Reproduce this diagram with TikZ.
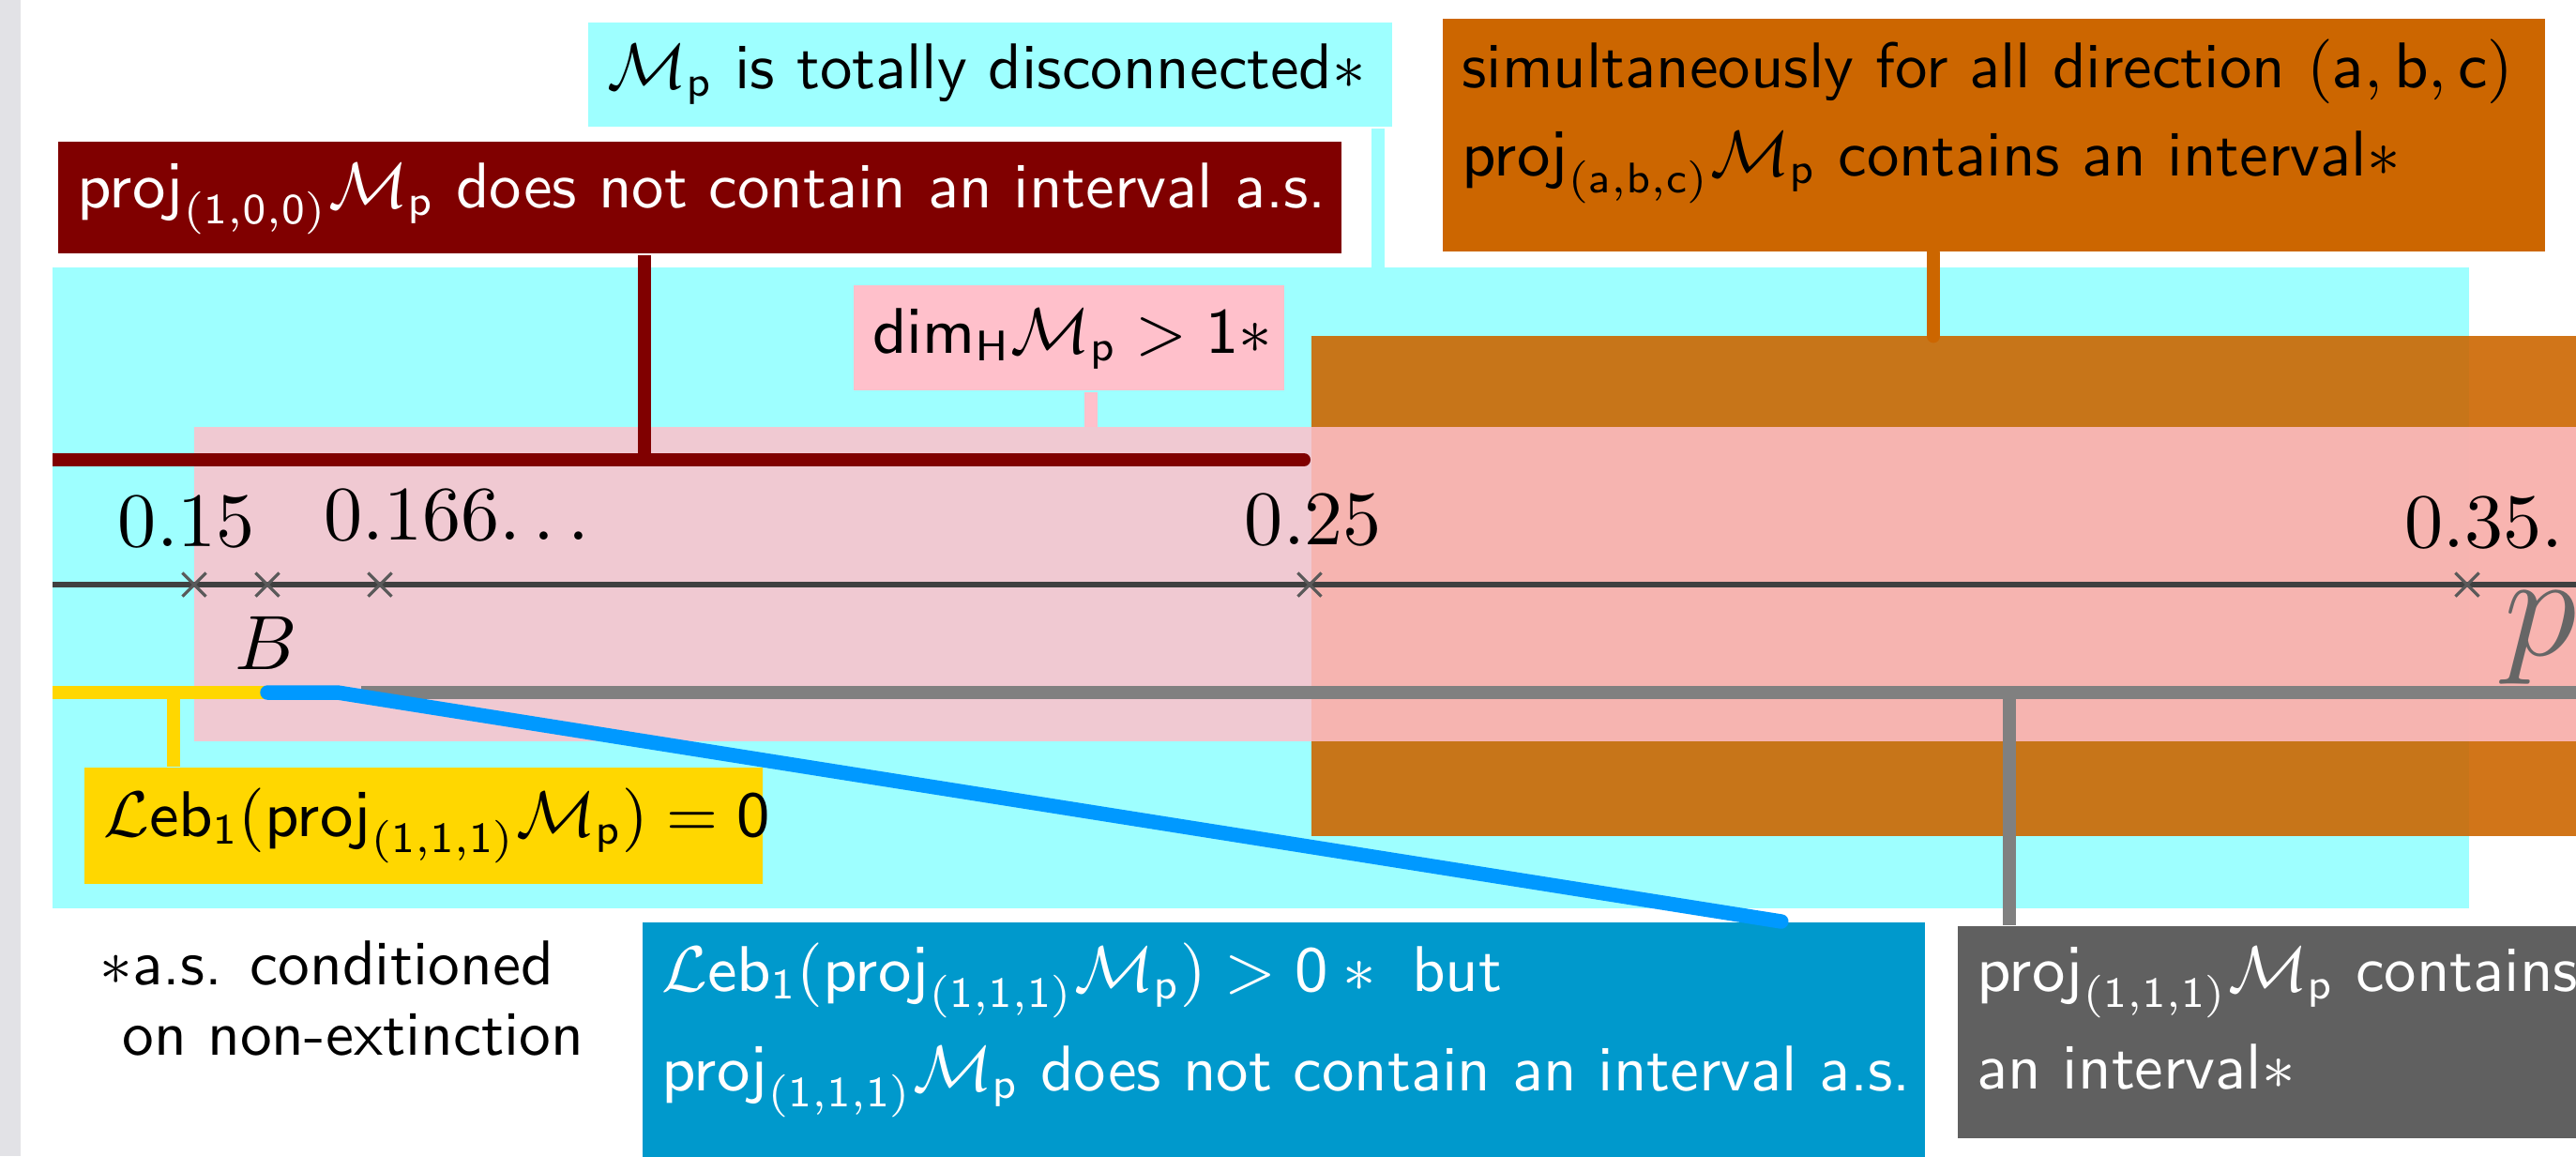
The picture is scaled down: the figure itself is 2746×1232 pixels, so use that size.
\RequirePackage{fix-cm}
\documentclass[tikz,border=0pt]{standalone}
\usepackage{xcolor}
\usepackage{tikz}
\usetikzlibrary{positioning, shapes.misc}
\definecolor{skycyan}{HTML}{9EFFFF}
\definecolor{maroonred}{HTML}{800000}
\definecolor{rustorange}{HTML}{CC6600}
\definecolor{softpink}{HTML}{FFC0CB}
\definecolor{goldyellow}{HTML}{FFD700}
\definecolor{seablue}{HTML}{0099CC}
\definecolor{brightblue}{HTML}{0099FF}
\definecolor{midgray}{HTML}{808080}
\definecolor{slabgray}{HTML}{606060}
\definecolor{edgegray}{HTML}{E2E2E6}
\DeclareMathSizes{9.8}{9.8}{6.5}{5}

\newcommand{\Mp}{\mathcal{M}_{\mathsf{p}}}
\newcommand{\projd}[1]{\mathsf{proj}_{\mathsf{(#1)}}}
\newcommand{\Lebone}{\mathcal{L}\mathsf{eb}_{\mathsf{1}}}

\tikzset{
  tagbox/.style={anchor=north west, inner xsep=0.1cm, inner ysep=0pt, align=left,
    font=\fontsize{9.8}{11.8}\selectfont\sffamily},
  link/.style={line width=2.1pt},
  interval/.style={line width=2pt, line cap=round},
  tickmark/.style={cross out, draw=black!65, line width=0.45pt, inner sep=0pt, minimum size=0.11cm},
  ticklabel/.style={font=\fontsize{11.7}{14}\selectfont, inner sep=0pt},
}

\begin{document}
\begin{tikzpicture}[x=0.005cm, y=-0.005cm]
  \useasboundingbox (0,0) rectangle (2746,1232);
  \fill[edgegray] (0,0) rectangle (22,1232);
  \clip (56,0) rectangle (2746,1232);

  % regions along p
  \fill[skycyan] (56,285) rectangle (2632,968);
  \fill[rustorange, opacity=.9] (1398,358) rectangle (2800,891);
  \fill[softpink, opacity=.85] (207,455) rectangle (2800,790);

  % labels
  \node[tagbox, fill=skycyan, text width=4.085cm, text height=0.35cm, text depth=0.205cm]
    (tdisc) at (626,23) {\mbox{$\Mp$ is totally disconnected$\ast$}};
  \node[tagbox, fill=maroonred, text=white, text width=6.645cm, text height=0.35cm, text depth=0.245cm]
    (projx) at (61,150) {\mbox{$\projd{1,0,0}\Mp$ does not contain an interval a.s.}};
  \node[tagbox, fill=rustorange, text width=5.68cm, text height=0.365cm, text depth=0.875cm]
    (alldir) at (1537,19) {\mbox{simultaneously for all direction $(\mathsf{a},\mathsf{b},\mathsf{c})$}\\[1.65pt]
      \mbox{$\projd{a,b,c}\Mp$ contains an interval$\ast$}};
  \node[tagbox, fill=softpink, text width=2.095cm, text height=0.36cm, text depth=0.2cm]
    (dimh) at (909,303) {\mbox{$\mathsf{dim}_{\mathsf{H}}\Mp > \mathsf{1}\ast$}};
  \node[tagbox, fill=goldyellow, text width=3.415cm, text height=0.365cm, text depth=0.255cm]
    (lebzero) at (89,817) {\mbox{$\Lebone(\projd{1,1,1}\Mp) = \mathsf{0}$}};
  \node[tagbox, fill=seablue, text=white, text width=6.64cm, text height=0.365cm, text depth=1.225cm]
    (lebpos) at (684,982) {\mbox{$\Lebone(\projd{1,1,1}\Mp) > \mathsf{0}\ast{}$ but}\\[3.3pt]
      \mbox{$\projd{1,1,1}\Mp$ does not contain an interval a.s.}};
  \node[tagbox, fill=slabgray, text=white, text width=3.87cm, text height=0.345cm, text depth=0.785cm]
    (contint) at (2086,986) {\mbox{$\projd{1,1,1}\Mp$ contains}\\[3pt]
      \mbox{an interval$\ast$}};
  \node[anchor=north west, align=left, inner sep=0pt, font=\fontsize{9.6}{10.65}\selectfont\sffamily]
    (note) at (105,1001) {$\ast$a.s. conditioned\\\hspace*{0.12cm}on non-extinction};

  % the p axis
  \draw[line width=0.85pt, black!75] (56,623) -- (2800,623);
  \foreach \x/\name in {207/t15, 285/tB, 405/t166, 1396/t25, 2630/t35}
    \node[tickmark] (\name) at (\x,623) {};
  \node[ticklabel, anchor=base] (l15) at (199,582) {$0.15$};
  \node[ticklabel, anchor=base west] (l166) at (344,575) {$0.166\ldotp\ldotp\ldotp$};
  \node[ticklabel, anchor=base] (l25) at (1400,580) {$0.25$};
  \node[ticklabel, anchor=base west] (l35) at (2562,583) {$0.35.$};
  \node[ticklabel, anchor=base] (lB) at (284,713) {$B$};
  \node[inner sep=0pt, anchor=base west, text=black!60, font=\fontsize{22.5}{26}\selectfont]
    (pvar) at (2668,698) {$p$};

  % where connectors meet
  \coordinate (cyantap) at (1469,285);
  \coordinate (redtap) at (687,490);
  \coordinate (pinktap) at (1163,455);
  \coordinate (orangetap) at (2061,358);
  \coordinate (yellowtap) at (185,738);
  \coordinate (graytap) at (2142,738);
  \coordinate (bluebend) at (360,738);

  \draw[link, skycyan] (tdisc.south -| cyantap) -- (cyantap);
  \draw[link, maroonred] (projx.south -| redtap) -- (redtap);
  \draw[link, softpink] (dimh.south -| pinktap) -- (pinktap);
  \draw[link, rustorange, line cap=round] (alldir.south -| orangetap) -- (orangetap);
  \draw[link, goldyellow] (yellowtap) -- (yellowtap |- lebzero.north);
  \draw[link, midgray] (graytap) -- (graytap |- contint.north);

  % intervals
  \draw[interval, maroonred] (40,490) -- (1390,490);
  \draw[interval, goldyellow] (40,738) -- (tB |- yellowtap);
  \draw[interval, midgray, line cap=butt] (385,738) -- (2800,738);
  \draw[interval, brightblue, line width=2.2pt, line join=round]
    (tB |- yellowtap) -- (bluebend) -- ([xshift=6.08cm]lebpos.north west);
\end{tikzpicture}
\end{document}
